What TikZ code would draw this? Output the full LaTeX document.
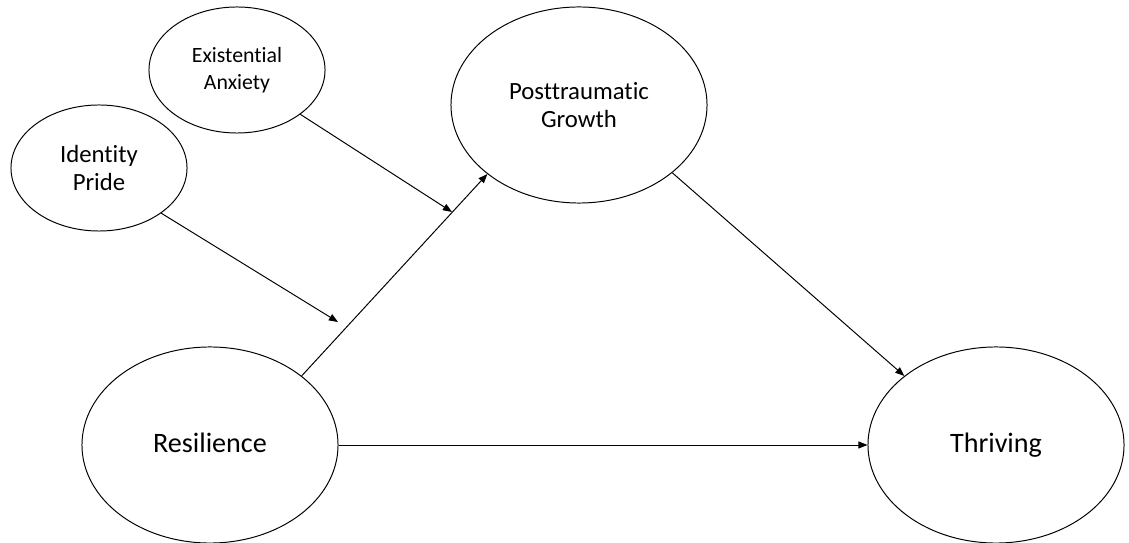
\documentclass[tikz,border=0pt]{standalone}
\usepackage{fontspec}
\setmainfont[Ligatures=CommonOff]{Carlito}
\usetikzlibrary{shapes.geometric,arrows.meta}
\begin{document}
\begin{tikzpicture}[x=0.025cm,y=-0.025cm,
    latent/.style={draw,ellipse,inner sep=0pt,line width=0.7pt,align=center},
    smallvar/.style={latent,minimum width=4.4cm,minimum height=3.15cm},
    largevar/.style={latent,minimum width=6.4cm,minimum height=4.9cm},
    effect/.style={-{Stealth[length=6.5pt,width=5pt,inset=0pt]},line width=0.7pt}]
    \useasboundingbox (0,0) rectangle (1129,543);
    % moderators
    \node[smallvar,font=\fontsize{15.5}{19.5}\selectfont] (anx) at (237,70) {Existential\\Anxiety};
    \node[smallvar,font=\fontsize{17.6}{20.5}\selectfont] (pride) at (99,168) {Identity\\Pride};
    % main variables
    \node[largevar,font=\fontsize{17.6}{20}\selectfont] (ptg) at (579,105) {Posttraumatic\\Growth};
    \node[largevar,font=\fontsize{20}{24}\selectfont] (res) at (210,445) {Resilience\vphantom{g}};
    \node[largevar,font=\fontsize{20}{24}\selectfont] (thr) at (996,445) {Thriving};
    \coordinate (anxtip) at (452,212);
    \coordinate (pridetip) at (338,322);
    % paths
    \draw[effect] (res.37) -- (ptg.217.6);
    \draw[effect] (ptg.-36.8) -- (thr.143.2);
    \draw[effect] (res.east) -- (thr.west);
    \draw[effect] (anx.-35) -- (anxtip);
    \draw[effect] (pride.-36) -- (pridetip);
\end{tikzpicture}
\end{document}
